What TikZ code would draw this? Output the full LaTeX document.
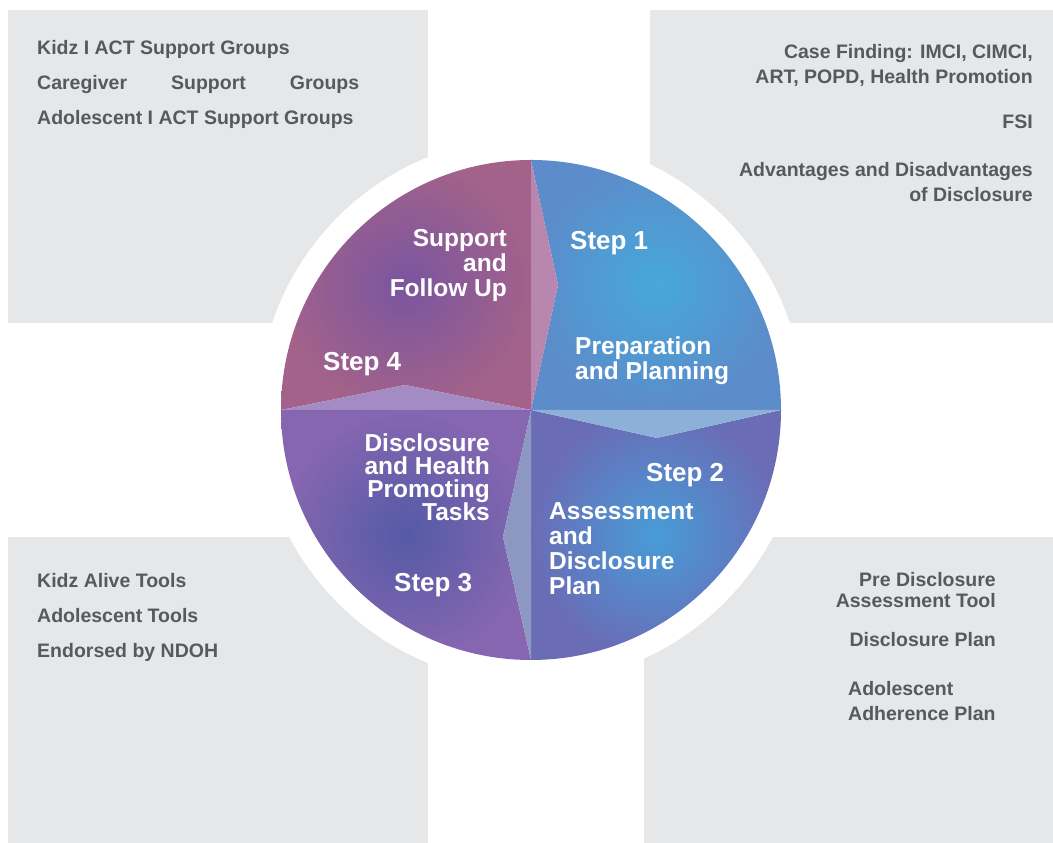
\documentclass[tikz,border=0pt]{standalone}
\usepackage{fontspec}
\setmainfont{Liberation Sans}
\usetikzlibrary{positioning}
\definecolor{panelgrey}{HTML}{E6E7E9}
\definecolor{paneltext}{HTML}{58595B}
% step colours: inner and outer of each shading
\definecolor{oneinner}{RGB}{70,168,218}
\definecolor{oneouter}{RGB}{92,140,202}
\definecolor{twoinner}{RGB}{72,156,215}
\definecolor{twoouter}{RGB}{106,108,182}
\definecolor{threeinner}{RGB}{84,90,166}
\definecolor{threeouter}{RGB}{134,102,176}
\definecolor{fourinner}{RGB}{122,85,160}
\definecolor{fourouter}{RGB}{162,98,138}
% chevrons
\definecolor{chevtop}{RGB}{184,134,174}
\definecolor{chevright}{RGB}{141,176,216}
\definecolor{chevbottom}{RGB}{140,152,194}
\definecolor{chevleft}{RGB}{165,139,195}
\tikzset{
    panel/.style={fill=panelgrey, draw=none},
    paneltxt/.style={text=paneltext, inner sep=0pt, font=\bfseries\fontsize{19.5}{24.5}\selectfont},
    paneltight/.style={paneltxt, font=\bfseries\fontsize{19.5}{20.5}\selectfont},
    panelwide/.style={paneltxt, font=\bfseries\fontsize{19.5}{34.8}\selectfont},
    pietxt/.style={text=white, inner sep=0pt, font=\bfseries\fontsize{24.5}{25}\selectfont},
    steptxt/.style={text=white, inner sep=0pt, font=\bfseries\fontsize{26}{26}\selectfont},
}

\begin{document}
\begin{tikzpicture}[x=1pt, y=1pt]
\useasboundingbox (0,0) rectangle (1053,843);

% grey panels in the corners
		\fill[panel] (8,520) rectangle (428,833);
		\fill[panel] (650,520) rectangle (1053,833);
		\fill[panel] (8,0) rectangle (428,306);
		\fill[panel] (644,0) rectangle (1053,306);

% white ring round the wheel
		\fill[white] (531,433) circle (273);

% the four steps
		\shade[inner color=oneinner, outer color=oneouter]
			(531,433) -- (781,433) arc[start angle=0, end angle=90, radius=250] -- (558,558) -- cycle;
		\shade[inner color=twoinner, outer color=twoouter]
			(531,433) -- (657,405) -- (781,433) arc[start angle=0, end angle=-90, radius=250] -- cycle;
		\shade[inner color=threeinner, outer color=threeouter]
			(531,433) -- (281,433) arc[start angle=180, end angle=270, radius=250] -- (503,306) -- cycle;
		\shade[inner color=fourinner, outer color=fourouter]
			(531,433) -- (531,683) arc[start angle=90, end angle=180, radius=250] -- (405,458) -- cycle;

% light chevrons between the steps
		\fill[chevtop] (531,683) -- (558,558) -- (531,433) -- cycle;
		\fill[chevright] (531,433) -- (657,405) -- (781,433) -- cycle;
		\fill[chevbottom] (531,183) -- (503,306) -- (531,433) -- cycle;
		\fill[chevleft] (281,433) -- (405,458) -- (531,433) -- cycle;

% labels in the wheel (base of a multi-line node = its last line)
		\node[steptxt, anchor=base west] (step1) at (570,593) {Step 1};
		\node[pietxt, anchor=base west, align=left] (prep) at (575,463) {Preparation\\and Planning};
		\node[steptxt, anchor=base west] (step2) at (646,361) {Step 2};
		\node[pietxt, anchor=base west, align=left] (assess) at (549,248) {Assessment\\and\\Disclosure\\Plan};
		\node[steptxt, anchor=base west] (step3) at (394,251) {Step 3};
		\node[pietxt, anchor=base east, align=right, font=\bfseries\fontsize{24.5}{23}\selectfont] (tasks) at (490,322) {Disclosure\\and Health\\Promoting\\Tasks};
		\node[steptxt, anchor=base west] (step4) at (323,472) {Step 4};
		\node[pietxt, anchor=base east, align=right] (follow) at (507,546) {Support\\and\\Follow Up};

% texts in the panels
		\node[panelwide, anchor=base west, align=left] (groups) at (37,718.4)
			{Kidz I ACT Support Groups\\\makebox[322pt][s]{Caregiver Support Groups}\\Adolescent I ACT Support Groups};
		\node[paneltxt, anchor=base east, align=right] (casefind) at (1033,759.5) {Case Finding: IMCI, CIMCI,\\ART, POPD, Health Promotion};
		\node[paneltxt, anchor=base east] (fsi) at (1033,714) {FSI};
		\node[paneltxt, anchor=base east, align=right] (advant) at (1033,641.5) {Advantages and Disadvantages\\of Disclosure};
		\node[panelwide, anchor=base west, align=left] (tools) at (37,185.4) {Kidz Alive Tools\\Adolescent Tools\\Endorsed by NDOH};
		\node[paneltight, anchor=base east, align=right] (predisc) at (996,235.5) {Pre Disclosure\\Assessment Tool};
		\node[paneltxt, anchor=base east] (discplan) at (996,196) {Disclosure Plan};
		\node[paneltxt, anchor=base west, align=left] (adhere) at (848,122.5) {Adolescent\\Adherence Plan};
\end{tikzpicture}
\end{document}
